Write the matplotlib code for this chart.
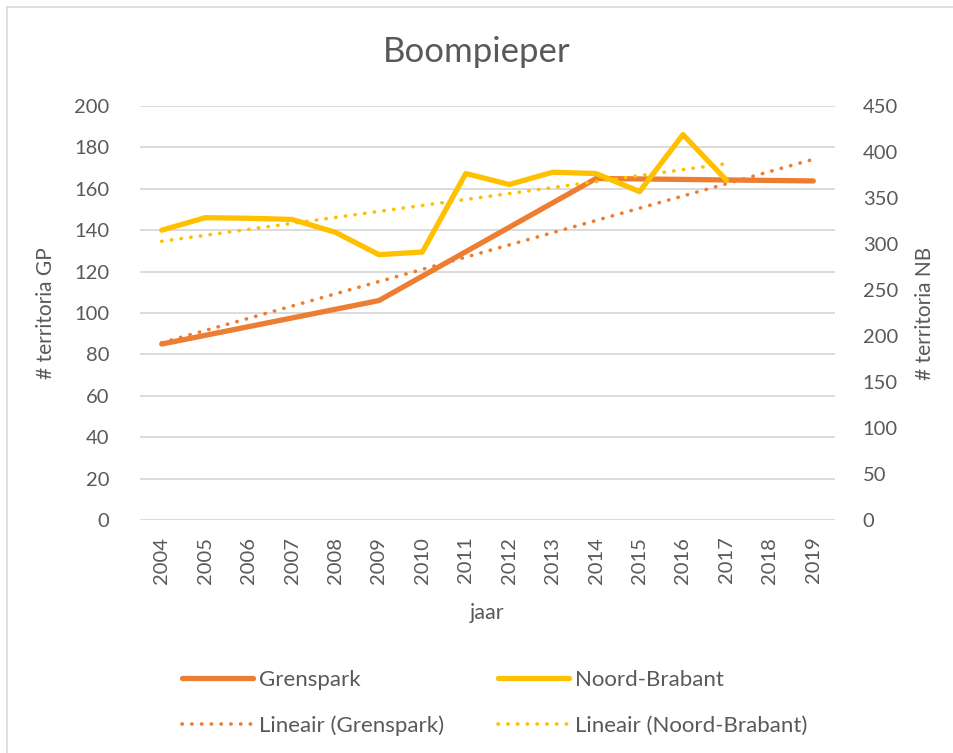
import matplotlib
matplotlib.use("Agg")
import matplotlib.pyplot as plt
import numpy as np
from matplotlib.lines import Line2D

plt.rcParams['font.family'] = ['Lato', 'DejaVu Sans']

years = ['2004', '2005', '2006', '2007', '2008', '2009', '2010', '2011',
         '2012', '2013', '2014', '2015', '2016', '2017', '2018', '2019']
# Grenspark is counted every five years; the line connects the counts
grenspark = [85, None, None, None, None, 106, None, None, None, None,
             165, None, None, None, None, 163.8]
noord_brabant = [315, 328.6, 328, 326.7, 312.7, 288.4, 291.3, 376.6,
                 364.7, 378, 376.6, 357, 418.9, 369.4]

left_ticks = [0, 20, 40, 60, 80, 100, 120, 140, 160, 180, 200]
right_ticks = [0, 50, 100, 150, 200, 250, 300, 350, 400, 450]

ORANGE = '#ED7D31'
YELLOW = '#FFC000'
TXT = '#595959'
GRID = '#D9D9D9'

fig = plt.figure(figsize=(9.54, 7.53), dpi=100)
ax = fig.add_axes([140/954, 1-520/753, 695/954, 414/753])
ax2 = ax.twinx()

x_all = np.arange(len(years))
gp_x = np.array([i for i, v in enumerate(grenspark) if v is not None])
gp_y = np.array([v for v in grenspark if v is not None], dtype=float)
x_nb = np.arange(len(noord_brabant))

# trend lines (linear regression, as the spreadsheet computes them)
c_gp = np.polyfit(gp_x, gp_y, 1)
c_nb = np.polyfit(x_nb, noord_brabant, 1)
gp_span = np.array([gp_x.min(), gp_x.max()])
nb_span = np.array([x_nb.min(), x_nb.max()])

dot = dict(linestyle=(0, (0.1, 2.6)), dash_capstyle='round', lw=2.6)

ax.plot(gp_x, gp_y, color=ORANGE, lw=3.8, solid_capstyle='round',
        solid_joinstyle='round', zorder=3)
ax.plot(gp_span, np.polyval(c_gp, gp_span), color=ORANGE, zorder=4, **dot)
ax2.plot(x_nb, noord_brabant, color=YELLOW, lw=3.8, solid_capstyle='round',
         solid_joinstyle='round', zorder=3)
ax2.plot(nb_span, np.polyval(c_nb, nb_span), color=YELLOW, zorder=4, **dot)

ax.set_xlim(-0.5, len(years) - 0.5)
ax.set_ylim(0, 200)
ax2.set_ylim(0, 450)
ax.set_yticks(left_ticks)
ax2.set_yticks(right_ticks)
ax.set_xticks(x_all)
ax.set_xticklabels(years, rotation=90)

ax.grid(axis='y', color=GRID, lw=1.3)
ax.set_axisbelow(True)
for a in (ax, ax2):
    for s in a.spines.values():
        s.set_visible(False)
    a.tick_params(length=0, labelsize=14.5, labelcolor=TXT)
ax.tick_params(axis='y', pad=22)
ax2.tick_params(axis='y', pad=20)
ax.tick_params(axis='x', pad=12)

ax.set_ylabel('# territoria GP', fontsize=15, color=TXT, labelpad=13)
ax2.set_ylabel('# territoria NB', fontsize=15, color=TXT, labelpad=12)
ax.set_xlabel('jaar', fontsize=15.5, color=TXT, labelpad=14)

fig.text(0.5, 1-52/753, 'Boompieper', ha='center', va='center',
         fontsize=25, color=TXT)

handles = [
    Line2D([], [], color=ORANGE, lw=3.8, solid_capstyle='round'),
    Line2D([], [], color=ORANGE, **dot),
    Line2D([], [], color=YELLOW, lw=3.8, solid_capstyle='round'),
    Line2D([], [], color=YELLOW, **dot),
]
labels = ['Grenspark', 'Lineair (Grenspark)', 'Noord-Brabant',
          'Lineair (Noord-Brabant)']
leg = fig.legend(handles, labels, ncol=2, frameon=False, fontsize=16,
                 labelcolor=TXT, handlelength=3.2, handletextpad=0.28,
                 columnspacing=2.4, labelspacing=1.15,
                 loc='center left', bbox_to_anchor=(162/954, 1-703/753))

# light frame (chart area border)
fig.add_artist(Line2D([7/954, 7/954], [0, 1-7/753], color='#D9D9D9', lw=1.2,
                      transform=fig.transFigure))
fig.add_artist(Line2D([7/954, 1], [1-7/753, 1-7/753], color='#D9D9D9', lw=1.2,
                      transform=fig.transFigure))

fig.savefig('out.png', dpi=100)
